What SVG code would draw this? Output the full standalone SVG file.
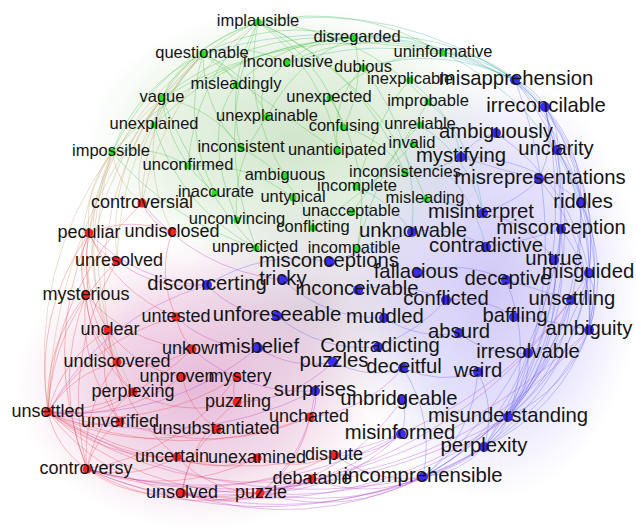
<svg xmlns="http://www.w3.org/2000/svg" width="636" height="529" viewBox="0 0 636 529">
<defs>
<style>
#connectors path{fill:none;stroke-width:0.8;stroke-opacity:0.4}
.eg{stroke:#3b3}
.er{stroke:#e34}
.eb{stroke:#55f}
.egb{stroke:#3a9}
.erb{stroke:#a3c}
.erg{stroke:#b96}
.n text{font-family:"Liberation Sans",Arial,sans-serif;fill:#141414;text-anchor:middle}
.g circle{fill:#22e022}
.g text{font-size:16.5px}
.r circle{fill:#ff2222}
.r text{font-size:18px}
.b circle{fill:#3a2cf5}
.b text{font-size:20.3px}
</style>
<radialGradient id="gG"><stop offset="0" stop-color="rgb(170,208,160)" stop-opacity="0.55"/><stop offset="0.6" stop-color="rgb(180,215,170)" stop-opacity="0.32"/><stop offset="1" stop-color="rgb(190,220,180)" stop-opacity="0"/></radialGradient>
<radialGradient id="gR"><stop offset="0" stop-color="rgb(212,135,188)" stop-opacity="0.58"/><stop offset="0.6" stop-color="rgb(220,150,195)" stop-opacity="0.34"/><stop offset="1" stop-color="rgb(230,170,205)" stop-opacity="0"/></radialGradient>
<radialGradient id="gB"><stop offset="0" stop-color="rgb(160,145,240)" stop-opacity="0.5"/><stop offset="0.6" stop-color="rgb(175,165,245)" stop-opacity="0.32"/><stop offset="1" stop-color="rgb(190,185,250)" stop-opacity="0"/></radialGradient>
<radialGradient id="gM"><stop offset="0" stop-color="rgb(175,155,180)" stop-opacity="0.4"/><stop offset="1" stop-color="rgb(190,175,200)" stop-opacity="0"/></radialGradient>
</defs>
<rect width="636" height="529" fill="#fff"/>
<g id="background">
<ellipse cx="295" cy="140" rx="210" ry="135" fill="url(#gG)"/>
<ellipse cx="490" cy="285" rx="150" ry="215" fill="url(#gB)"/>
<ellipse cx="200" cy="385" rx="185" ry="145" fill="url(#gR)"/>
<ellipse cx="320" cy="300" rx="140" ry="110" fill="url(#gM)"/>
</g>
<g id="connectors">
<path class="eg" d="M258 22Q195 41 162 98M258 22Q185 53 154 125M258 22Q159 58 112 152M258 22Q194 80 188 166M258 22Q224 82 241 148M258 22Q324 70 338 151M258 22Q322 58 343 127M258 22Q359 28 428 102M258 22Q357 1 443 53M258 22Q362 68 405 173M258 22Q241 104 285 176M258 22Q212 135 256 248M258 22Q377 77 426 199"/>
<path class="eg" d="M203 54Q174 68 162 98M203 54Q138 85 112 152M203 54Q226 63 236 85M203 54Q248 73 267 117M203 54Q203 109 241 148M203 54Q275 16 354 38M203 54Q181 126 215 193M203 54Q247 42 287 63M162 98Q212 107 241 148M112 152Q153 144 188 166"/>
<path class="eg" d="M443 53Q402 28 354 38M443 53Q363 27 287 63M443 53Q294 19 162 98M443 53Q378 53 330 98M354 38Q316 37 287 63M354 38Q246 30 162 98M354 38Q237 42 154 125M354 38Q210 47 112 152M354 38Q286 38 236 85M354 38Q366 85 343 127M354 38Q295 60 267 117"/>
<path class="eg" d="M267 117Q231 163 237 220M241 148Q293 174 313 228M330 98Q374 168 357 249M343 127Q383 138 405 173M154 125Q180 207 256 248M188 166Q247 161 293 198M162 98Q170 156 215 193M363 68Q330 100 338 151M287 63Q250 90 267 117M410 80Q380 110 356 187M428 102Q400 150 352 212M420 125Q380 160 357 249M413 144Q380 180 313 228M236 85Q200 130 237 220M162 98Q200 190 256 248M112 152Q170 220 256 248M203 54Q290 120 338 151"/>
<path class="erg" d="M258 22Q164 89 142 203M203 54Q110 121 89 233M203 54Q143 116 142 203M203 54Q119 140 117 261M203 54Q96 151 86 295M203 54Q54 202 48 412M162 98Q99 151 89 233M162 98Q107 171 117 261M162 98Q89 203 108 330M162 98Q140 167 172 232M112 152Q84 188 89 233M112 152Q70 218 86 295M112 152Q74 240 108 330M112 152Q28 269 48 412M112 152Q73 258 117 362M112 152Q117 184 142 203M112 152Q75 276 133 392M154 125Q132 162 142 203"/>
<path class="er" d="M48 412Q33 314 89 233M48 412Q44 346 86 295M48 412Q62 359 108 330M48 412Q52 323 117 261M48 412Q73 373 117 362M48 412Q95 419 133 392M48 412Q82 431 120 422M48 412Q56 448 87 469M48 412Q104 460 177 457M48 412Q99 479 182 493M48 412Q129 454 217 429M48 412Q138 495 260 493M48 412Q143 477 257 458M48 412Q122 421 182 377M48 412Q150 432 237 377M48 412Q93 339 176 317M48 412Q167 498 312 479M48 412Q178 467 310 417M48 412Q183 491 335 455M48 412Q133 409 192 349"/>
<path class="er" d="M87 469Q94 439 120 422M87 469Q134 481 177 457M87 469Q130 500 182 493M87 469Q169 516 260 493M87 469Q174 498 257 458M87 469Q198 519 312 479M87 469Q214 512 335 455M87 469Q180 453 237 377M87 469Q81 410 117 362M87 469Q95 421 133 392M182 493Q221 509 260 493M182 493Q250 512 312 479M182 493Q187 454 217 429M182 493Q191 437 237 402M260 493Q211 492 177 457M260 493Q300 465 310 417"/>
<path class="er" d="M89 233Q97 253 117 261M89 233Q75 263 86 295M89 233Q79 285 108 330M89 233Q116 292 176 317M89 233Q130 216 172 232M89 233Q77 303 117 362M86 295Q88 335 117 362M86 295Q90 353 133 392M86 295Q78 365 120 422M86 295Q128 343 192 349M108 330Q108 366 133 392M108 330Q96 378 120 422M108 330Q117 407 177 457M108 330Q136 368 182 377M142 203Q151 224 172 232M172 232Q157 275 176 317M176 317Q180 335 192 349M182 377Q189 410 217 429M237 377Q230 390 237 402M177 457Q217 474 257 458M257 458Q297 472 335 455M133 392Q183 418 237 402M117 362Q157 371 192 349M120 422Q216 458 310 417"/>
<path class="er" d="M89 233Q41 351 87 469M86 295Q52 382 87 469M142 203Q53 289 48 412M117 261Q60 359 87 469"/>
<path class="erb" d="M48 412Q102 317 207 285M48 412Q166 422 258 348M48 412Q186 455 315 391M48 412Q223 520 423 477M87 469Q253 540 423 477M87 469Q251 514 401 434M182 493Q306 533 423 477M182 493Q360 520 508 417M182 493Q342 530 484 447M182 493Q303 507 401 434M260 493Q345 518 423 477M260 493Q399 505 508 417M260 493Q381 515 484 447M260 493Q350 475 402 400M260 493Q308 453 315 391M260 493Q342 492 401 434M423 477Q375 484 335 455"/>
<path class="erb" d="M182 493Q418 493 589 330M260 493Q454 459 571 300M87 469Q308 527 508 417M312 479Q480 460 589 330M335 455Q498 415 589 273"/>
<path class="erb" d="M89 233Q138 283 207 285M142 203Q197 270 283 280M258 348Q293 370 333 362M315 391Q318 405 310 417M176 317Q211 349 258 348M117 261Q157 291 207 285M192 349Q245 395 315 391M237 402Q293 401 333 362M310 417Q366 411 403 368M335 455Q372 458 401 434M312 479Q368 500 423 477M207 285Q236 315 277 316"/>
<path class="eb" d="M423 477Q460 474 484 447M423 477Q478 464 508 417M423 477Q500 436 528 353M423 477Q535 437 589 330M423 477Q532 418 571 300M423 477Q472 436 478 372M423 477Q435 419 403 368M423 477Q547 408 589 273M423 477Q542 381 561 229"/>
<path class="eb" d="M508 417Q566 390 589 330M508 417Q563 371 571 300M508 417Q577 361 589 273M508 417Q587 325 581 203M508 417Q572 334 561 229M508 417Q586 293 557 150M508 417Q589 269 545 107M508 417Q579 250 515 80M508 417Q562 348 554 260M508 417Q531 389 528 353M508 417Q534 348 506 280M508 417Q502 437 484 447"/>
<path class="eb" d="M484 447Q560 410 589 330M484 447Q571 381 589 273M484 447Q581 344 581 203M484 447Q580 313 557 150M484 447Q583 289 545 107M484 447Q496 408 478 372M589 330Q600 302 589 273M589 330Q610 265 581 203M589 330Q609 234 557 150M589 330Q612 210 545 107M589 330Q602 190 515 80M589 330Q594 245 539 179M589 330Q595 274 561 229"/>
<path class="eb" d="M589 273Q598 205 557 150M589 273Q600 181 545 107M589 273Q591 162 515 80M589 273Q571 184 496 133M581 203Q582 148 545 107M581 203Q573 128 515 80M581 203Q530 156 461 157M515 80Q535 88 545 107M515 80Q550 107 557 150M545 107Q560 126 557 150M545 107Q556 144 539 179"/>
<path class="eb" d="M207 285Q264 249 330 262M283 280Q326 319 384 318M277 316Q321 352 378 347M412 232Q452 225 486 247M483 213Q528 222 554 260M418 273Q463 259 506 280M446 300Q483 295 514 317M459 333Q490 357 528 353M403 368Q440 385 478 372M402 400Q408 417 401 434M461 157Q474 138 496 133M330 262Q370 250 412 232M358 290Q400 280 446 300M384 318Q420 340 459 333M333 362Q370 380 403 368M378 347Q420 330 446 300M483 213Q520 200 539 179M486 247Q530 240 561 229M506 280Q540 290 571 300M514 317Q550 320 589 330M461 157Q500 170 539 179"/>
<path class="egb" d="M258 22Q398 0 515 80M581 203Q542 100 443 53M515 80Q484 52 443 53M515 80Q443 27 354 38M515 80Q441 44 363 68M515 80Q404 26 287 63M515 80Q364 5 203 54M545 107Q505 60 443 53M545 107Q463 34 354 38M428 102Q456 123 461 157M410 80Q473 132 483 213M363 68Q420 140 412 232M420 125Q469 156 483 213M413 144Q470 181 486 247M426 199Q460 205 483 213M405 173Q440 170 461 157M356 187Q390 200 412 232"/>
</g>
<g id="nodes">
<g id="n-implausible" class="n g"><circle cx="258" cy="22" r="3.5"/><text x="258" y="26">implausible</text></g>
<g id="n-disregarded" class="n g"><circle cx="354" cy="38" r="3.5"/><text x="357" y="42">disregarded</text></g>
<g id="n-questionable" class="n g"><circle cx="203" cy="54" r="3.5"/><text x="202" y="58">questionable</text></g>
<g id="n-uninformative" class="n g"><circle cx="443" cy="53" r="3.5"/><text x="443" y="57">uninformative</text></g>
<g id="n-inconclusive" class="n g"><circle cx="287" cy="63" r="3.5"/><text x="288" y="67">inconclusive</text></g>
<g id="n-dubious" class="n g"><circle cx="363" cy="68" r="3.5"/><text x="363" y="72">dubious</text></g>
<g id="n-inexplicable" class="n g"><circle cx="410" cy="80" r="3.5"/><text x="410" y="84">inexplicable</text></g>
<g id="n-misleadingly" class="n g"><circle cx="236" cy="85" r="3.5"/><text x="236" y="89">misleadingly</text></g>
<g id="n-unexpected" class="n g"><circle cx="330" cy="98" r="3.5"/><text x="329" y="102">unexpected</text></g>
<g id="n-vague" class="n g"><circle cx="162" cy="98" r="3.5"/><text x="162" y="102">vague</text></g>
<g id="n-improbable" class="n g"><circle cx="428" cy="102" r="3.5"/><text x="428" y="106">improbable</text></g>
<g id="n-unexplainable" class="n g"><circle cx="267" cy="117" r="3.5"/><text x="267" y="121">unexplainable</text></g>
<g id="n-unexplained" class="n g"><circle cx="154" cy="125" r="3.5"/><text x="154" y="129">unexplained</text></g>
<g id="n-confusing" class="n g"><circle cx="343" cy="127" r="3.5"/><text x="344" y="131">confusing</text></g>
<g id="n-unreliable" class="n g"><circle cx="420" cy="125" r="3.5"/><text x="420" y="129">unreliable</text></g>
<g id="n-invalid" class="n g"><circle cx="413" cy="144" r="3.5"/><text x="412" y="148">invalid</text></g>
<g id="n-inconsistent" class="n g"><circle cx="241" cy="148" r="3.5"/><text x="241" y="152">inconsistent</text></g>
<g id="n-unanticipated" class="n g"><circle cx="338" cy="151" r="3.5"/><text x="337" y="155">unanticipated</text></g>
<g id="n-impossible" class="n g"><circle cx="112" cy="152" r="3.5"/><text x="111" y="156">impossible</text></g>
<g id="n-unconfirmed" class="n g"><circle cx="188" cy="166" r="3.5"/><text x="188" y="170">unconfirmed</text></g>
<g id="n-inconsistencies" class="n g"><circle cx="405" cy="173" r="3.5"/><text x="405" y="177">inconsistencies</text></g>
<g id="n-ambiguous" class="n g"><circle cx="285" cy="176" r="3.5"/><text x="285" y="180">ambiguous</text></g>
<g id="n-incomplete" class="n g"><circle cx="356" cy="187" r="3.5"/><text x="357" y="191">incomplete</text></g>
<g id="n-inaccurate" class="n g"><circle cx="215" cy="193" r="3.5"/><text x="216" y="197">inaccurate</text></g>
<g id="n-untypical" class="n g"><circle cx="293" cy="198" r="3.5"/><text x="293" y="202">untypical</text></g>
<g id="n-misleading" class="n g"><circle cx="426" cy="199" r="3.5"/><text x="425" y="203">misleading</text></g>
<g id="n-unacceptable" class="n g"><circle cx="352" cy="212" r="3.5"/><text x="351" y="216">unacceptable</text></g>
<g id="n-unconvincing" class="n g"><circle cx="237" cy="220" r="3.5"/><text x="237" y="224">unconvincing</text></g>
<g id="n-conflicting" class="n g"><circle cx="313" cy="228" r="3.5"/><text x="313" y="232">conflicting</text></g>
<g id="n-unpredicted" class="n g"><circle cx="256" cy="248" r="3.5"/><text x="255" y="252">unpredicted</text></g>
<g id="n-incompatible" class="n g"><circle cx="357" cy="249" r="3.5"/><text x="354" y="253">incompatible</text></g>
<g id="n-controversial" class="n r"><circle cx="142" cy="203" r="4.5"/><text x="142" y="208">controversial</text></g>
<g id="n-peculiar" class="n r"><circle cx="89" cy="233" r="4.5"/><text x="89" y="238">peculiar</text></g>
<g id="n-undisclosed" class="n r"><circle cx="172" cy="232" r="4.5"/><text x="172" y="237">undisclosed</text></g>
<g id="n-unresolved" class="n r"><circle cx="117" cy="261" r="4.5"/><text x="119" y="266">unresolved</text></g>
<g id="n-mysterious" class="n r"><circle cx="86" cy="295" r="4.5"/><text x="86" y="300">mysterious</text></g>
<g id="n-untested" class="n r"><circle cx="176" cy="317" r="4.5"/><text x="176" y="322">untested</text></g>
<g id="n-unclear" class="n r"><circle cx="108" cy="330" r="4.5"/><text x="110" y="335">unclear</text></g>
<g id="n-unkown" class="n r"><circle cx="192" cy="349" r="4.5"/><text x="193" y="354">unkown</text></g>
<g id="n-undiscovered" class="n r"><circle cx="117" cy="362" r="4.5"/><text x="117" y="367">undiscovered</text></g>
<g id="n-unproven" class="n r"><circle cx="182" cy="377" r="4.5"/><text x="177" y="382">unproven</text></g>
<g id="n-mystery" class="n r"><circle cx="237" cy="377" r="4.5"/><text x="240" y="382">mystery</text></g>
<g id="n-perplexing" class="n r"><circle cx="133" cy="392" r="4.5"/><text x="133" y="397">perplexing</text></g>
<g id="n-puzzling" class="n r"><circle cx="237" cy="402" r="4.5"/><text x="238" y="407">puzzling</text></g>
<g id="n-unsettled" class="n r"><circle cx="48" cy="412" r="4.5"/><text x="48" y="417">unsettled</text></g>
<g id="n-unverified" class="n r"><circle cx="120" cy="422" r="4.5"/><text x="120" y="427">unverified</text></g>
<g id="n-uncharted" class="n r"><circle cx="310" cy="417" r="4.5"/><text x="309" y="422">uncharted</text></g>
<g id="n-unsubstantiated" class="n r"><circle cx="217" cy="429" r="4.5"/><text x="216" y="434">unsubstantiated</text></g>
<g id="n-dispute" class="n r"><circle cx="335" cy="455" r="4.5"/><text x="334" y="460">dispute</text></g>
<g id="n-uncertain" class="n r"><circle cx="177" cy="457" r="4.5"/><text x="172" y="462">uncertain</text></g>
<g id="n-unexamined" class="n r"><circle cx="257" cy="458" r="4.5"/><text x="257" y="463">unexamined</text></g>
<g id="n-controversy" class="n r"><circle cx="87" cy="469" r="4.5"/><text x="86" y="474">controversy</text></g>
<g id="n-debatable" class="n r"><circle cx="312" cy="479" r="4.5"/><text x="312" y="484">debatable</text></g>
<g id="n-unsolved" class="n r"><circle cx="182" cy="493" r="4.5"/><text x="182" y="498">unsolved</text></g>
<g id="n-puzzle" class="n r"><circle cx="260" cy="493" r="4.5"/><text x="261" y="498">puzzle</text></g>
<g id="n-misapprehension" class="n b"><circle cx="515" cy="80" r="5"/><text x="516" y="85">misapprehension</text></g>
<g id="n-irreconcilable" class="n b"><circle cx="545" cy="107" r="5"/><text x="546" y="112">irreconcilable</text></g>
<g id="n-ambiguously" class="n b"><circle cx="496" cy="133" r="5"/><text x="496" y="138">ambiguously</text></g>
<g id="n-unclarity" class="n b"><circle cx="557" cy="150" r="5"/><text x="556" y="155">unclarity</text></g>
<g id="n-mystifying" class="n b"><circle cx="461" cy="157" r="5"/><text x="461" y="162">mystifying</text></g>
<g id="n-misrepresentations" class="n b"><circle cx="539" cy="179" r="5"/><text x="540" y="184">misrepresentations</text></g>
<g id="n-riddles" class="n b"><circle cx="581" cy="203" r="5"/><text x="583" y="208">riddles</text></g>
<g id="n-misinterpret" class="n b"><circle cx="483" cy="213" r="5"/><text x="481" y="218">misinterpret</text></g>
<g id="n-misconception" class="n b"><circle cx="561" cy="229" r="5"/><text x="561" y="234">misconception</text></g>
<g id="n-unknowable" class="n b"><circle cx="412" cy="232" r="5"/><text x="413" y="237">unknowable</text></g>
<g id="n-contradictive" class="n b"><circle cx="486" cy="247" r="5"/><text x="486" y="252">contradictive</text></g>
<g id="n-untrue" class="n b"><circle cx="554" cy="260" r="5"/><text x="554" y="265">untrue</text></g>
<g id="n-misconceptions" class="n b"><circle cx="330" cy="262" r="5"/><text x="329" y="267">misconceptions</text></g>
<g id="n-fallacious" class="n b"><circle cx="418" cy="273" r="5"/><text x="416" y="278">fallacious</text></g>
<g id="n-misguided" class="n b"><circle cx="589" cy="273" r="5"/><text x="588" y="278">misguided</text></g>
<g id="n-tricky" class="n b"><circle cx="283" cy="280" r="5"/><text x="283" y="285">tricky</text></g>
<g id="n-deceptive" class="n b"><circle cx="506" cy="280" r="5"/><text x="508" y="285">deceptive</text></g>
<g id="n-disconcerting" class="n b"><circle cx="207" cy="285" r="5"/><text x="207" y="290">disconcerting</text></g>
<g id="n-inconceivable" class="n b"><circle cx="358" cy="290" r="5"/><text x="357" y="295">inconceivable</text></g>
<g id="n-conflicted" class="n b"><circle cx="446" cy="300" r="5"/><text x="446" y="305">conflicted</text></g>
<g id="n-unsettling" class="n b"><circle cx="571" cy="300" r="5"/><text x="572" y="305">unsettling</text></g>
<g id="n-unforeseeable" class="n b"><circle cx="277" cy="316" r="5"/><text x="277" y="321">unforeseeable</text></g>
<g id="n-muddled" class="n b"><circle cx="384" cy="318" r="5"/><text x="385" y="323">muddled</text></g>
<g id="n-baffling" class="n b"><circle cx="514" cy="317" r="5"/><text x="515" y="322">baffling</text></g>
<g id="n-absurd" class="n b"><circle cx="459" cy="333" r="5"/><text x="459" y="338">absurd</text></g>
<g id="n-ambiguity" class="n b"><circle cx="589" cy="330" r="5"/><text x="589" y="335">ambiguity</text></g>
<g id="n-Contradicting" class="n b"><circle cx="378" cy="347" r="5"/><text x="380" y="352">Contradicting</text></g>
<g id="n-misbelief" class="n b"><circle cx="258" cy="348" r="5"/><text x="259" y="353">misbelief</text></g>
<g id="n-irresolvable" class="n b"><circle cx="528" cy="353" r="5"/><text x="528" y="358">irresolvable</text></g>
<g id="n-puzzles" class="n b"><circle cx="333" cy="362" r="5"/><text x="334" y="367">puzzles</text></g>
<g id="n-deceitful" class="n b"><circle cx="403" cy="368" r="5"/><text x="404" y="373">deceitful</text></g>
<g id="n-weird" class="n b"><circle cx="478" cy="372" r="5"/><text x="478" y="377">weird</text></g>
<g id="n-surprises" class="n b"><circle cx="315" cy="391" r="5"/><text x="315" y="396">surprises</text></g>
<g id="n-unbridgeable" class="n b"><circle cx="402" cy="400" r="5"/><text x="399" y="405">unbridgeable</text></g>
<g id="n-misunderstanding" class="n b"><circle cx="508" cy="417" r="5"/><text x="508" y="422">misunderstanding</text></g>
<g id="n-misinformed" class="n b"><circle cx="401" cy="434" r="5"/><text x="400" y="439">misinformed</text></g>
<g id="n-perplexity" class="n b"><circle cx="484" cy="447" r="5"/><text x="484" y="452">perplexity</text></g>
<g id="n-incomprehensible" class="n b"><circle cx="423" cy="477" r="5"/><text x="423" y="482">incomprehensible</text></g>
</g>
</svg>
